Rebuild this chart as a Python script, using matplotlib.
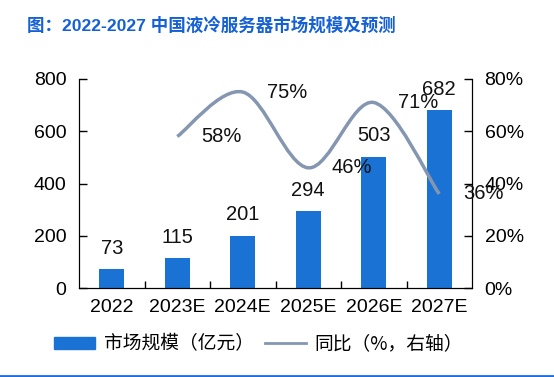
import matplotlib.pyplot as plt
from matplotlib.path import Path
from matplotlib.patches import PathPatch
from matplotlib.lines import Line2D
from matplotlib.patches import Patch

plt.rcParams['font.family'] = ['Liberation Sans', 'Noto Sans CJK SC', 'DejaVu Sans']

# data
years = ['2022', '2023E', '2024E', '2025E', '2026E', '2027E']
market = [73, 115, 201, 294, 503, 682]
yoy_years = [1, 2, 3, 4, 5]
yoy = [58, 75, 46, 71, 36]

bar_color = '#1a73d4'
line_color = '#8496b0'
title_color = '#1660d6'

fig = plt.figure(figsize=(5.54, 3.77), dpi=100)
ax = fig.add_axes([0.1426, 0.236, 0.852 - 0.1426, 0.7905 - 0.236])
x = list(range(len(years)))
ax.bar(x, market, width=0.38, color=bar_color, zorder=2)
for xi, v in zip(x, market):
    ax.annotate(str(v), (xi, v), xytext=(0, 8), textcoords='offset points',
                ha='center', va='bottom', fontsize=14.5, color='#111111')
ax.set_xlim(-0.5, 5.5)
ax.set_ylim(0, 800)
ax.set_yticks([0, 200, 400, 600, 800])
ax.set_xticks(x)
ax.set_xticklabels(years)
ax.set_xticks([i + 0.5 for i in range(5)], minor=True)
ax.tick_params(axis='x', which='major', length=0, labelsize=14, pad=8)
ax.tick_params(axis='x', which='minor', direction='in', length=5, width=1)
ax.tick_params(axis='y', direction='in', length=6, width=1, labelsize=14, pad=9)
ax.spines['top'].set_visible(False)

ax2 = ax.twinx()
ax2.set_ylim(0, 80)
ax2.set_yticks([0, 20, 40, 60, 80])
ax2.set_yticklabels([f'{t}%' for t in [0, 20, 40, 60, 80]])
ax2.tick_params(axis='y', direction='in', length=6, width=1, labelsize=14, pad=9)
ax2.spines['top'].set_visible(False)

# smooth line (Catmull-Rom style bezier through the points)
pts = list(zip(yoy_years, yoy))
verts = [pts[0]]
codes = [Path.MOVETO]
for i in range(len(pts) - 1):
    p0 = pts[i - 1] if i > 0 else pts[i]
    p1 = pts[i]
    p2 = pts[i + 1]
    p3 = pts[i + 2] if i + 2 < len(pts) else pts[i + 1]
    c1 = (p1[0] + (p2[0] - p0[0]) / 6, p1[1] + (p2[1] - p0[1]) / 6)
    c2 = (p2[0] - (p3[0] - p1[0]) / 6, p2[1] - (p3[1] - p1[1]) / 6)
    verts += [c1, c2, p2]
    codes += [Path.CURVE4] * 3
ax2.add_patch(PathPatch(Path(verts, codes), facecolor='none', edgecolor=line_color,
                        lw=2.5, capstyle='butt'))
for xi, v in zip(yoy_years, yoy):
    ax2.text(xi + 0.67, v, f'{v}%', ha='center', va='center', fontsize=14.5, color='#111111')

fig.text(0.049, 0.934, '图：2022-2027 中国液冷服务器市场规模及预测', fontsize=12.6,
         fontweight='bold', color=title_color, ha='left', va='center',
         family=['Liberation Sans', 'Noto Sans CJK SC'])

handles = [Patch(color=bar_color), Line2D([], [], color=line_color, lw=2)]
fig.legend(handles, ['市场规模（亿元）', '同比（%，右轴）'], loc='center',
           bbox_to_anchor=(0.467, 0.087), ncol=2, frameon=False,
           handlelength=2.2, handleheight=0.6, columnspacing=0.6, handletextpad=0.45,
           prop={'family': ['Noto Sans CJK SC'], 'size': 13.5})

fig.add_artist(Line2D([0, 1], [0.003, 0.003], transform=fig.transFigure,
                      color='#1c6fe0', lw=2))

plt.savefig('out.png', dpi=100)
